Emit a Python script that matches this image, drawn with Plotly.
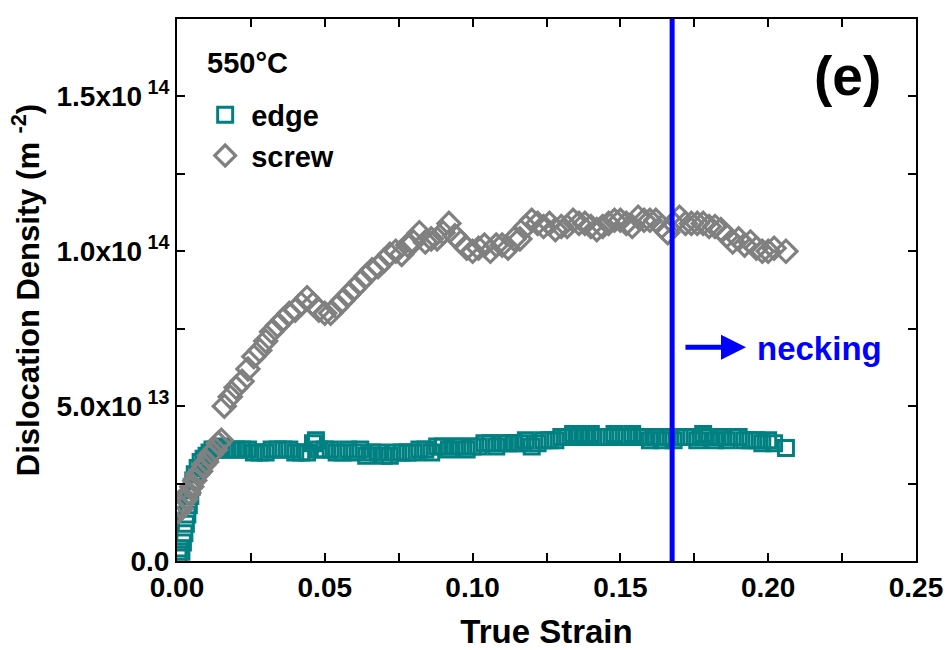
import plotly.graph_objects as go

# ---- data (strain, density in units of 1e13 m^-2) ----
screw_strain = [0.0005, 0.001, 0.0015, 0.002, 0.003, 0.004, 0.005, 0.006, 0.007, 0.008, 0.009, 0.010,
                0.011, 0.012, 0.013, 0.014, 0.015,
                0.016, 0.018, 0.020, 0.022, 0.024, 0.026, 0.028, 0.030, 0.032, 0.034, 0.036, 0.038,
                0.040, 0.042, 0.044, 0.046, 0.048, 0.050, 0.052, 0.054, 0.056, 0.058, 0.060, 0.062,
                0.064, 0.066, 0.068, 0.070, 0.072, 0.074, 0.076, 0.078, 0.080, 0.082, 0.084, 0.086,
                0.088, 0.090, 0.092, 0.094, 0.096, 0.098, 0.100, 0.102, 0.104, 0.106, 0.108, 0.110,
                0.112, 0.114, 0.116, 0.118, 0.120, 0.122, 0.124, 0.126, 0.128, 0.130, 0.132, 0.134,
                0.136, 0.138, 0.140, 0.142, 0.144, 0.146, 0.148, 0.150, 0.152, 0.154, 0.156, 0.158,
                0.160, 0.162, 0.164, 0.166, 0.168, 0.170, 0.172, 0.174, 0.176, 0.178, 0.180, 0.182,
                0.184, 0.186, 0.188, 0.190, 0.192, 0.194, 0.196, 0.198, 0.200, 0.202, 0.206]
screw_density = [1.6, 1.8, 1.7, 1.9, 2.0, 2.2, 2.4, 2.6, 2.8, 2.9, 3.1, 3.2,
                 3.4, 3.5, 3.6, 3.8, 3.9,
                 5.0, 5.3, 5.6, 5.8, 6.2, 6.6, 6.8, 7.1, 7.4, 7.6, 7.8, 8.0,
                 8.1, 8.3, 8.5, 8.3, 8.1, 8.0, 8.0, 8.2, 8.4, 8.6, 8.8, 9.0,
                 9.2, 9.4, 9.5, 9.7, 9.9, 10.0, 9.9, 10.2, 10.3, 10.6, 10.3, 10.4,
                 10.4, 10.6, 10.9, 10.5, 10.3, 10.1, 10.0, 10.1, 10.2, 10.0, 10.2, 10.2,
                 10.1, 10.4, 10.4, 10.8, 11.0, 10.9, 10.8, 10.9, 10.7, 10.8, 10.8, 11.0,
                 10.9, 10.9, 10.8, 10.7, 10.8, 10.9, 11.0, 11.0, 10.9, 10.8, 11.1, 11.0,
                 11.0, 11.0, 10.8, 10.6, 10.9, 11.1, 10.9, 10.9, 10.9, 10.9, 10.8, 10.8,
                 10.7, 10.5, 10.3, 10.4, 10.2, 10.3, 10.1, 10.0, 10.0, 10.1, 10.0]

edge_strain = [0.0005, 0.001, 0.0015, 0.002, 0.0025, 0.003, 0.0035, 0.004, 0.0045, 0.005, 0.0055,
               0.006, 0.007, 0.008, 0.009, 0.010, 0.011, 0.012, 0.013, 0.014, 0.015,
               0.016, 0.018, 0.020, 0.022, 0.024, 0.026, 0.028, 0.030, 0.032, 0.034, 0.036, 0.038,
               0.040, 0.042, 0.044, 0.046, 0.047, 0.048, 0.050, 0.052, 0.054, 0.056, 0.058, 0.060,
               0.062, 0.064, 0.066, 0.068, 0.070, 0.072, 0.074, 0.076, 0.078, 0.080, 0.082, 0.084,
               0.086, 0.088, 0.090, 0.092, 0.094, 0.096, 0.098, 0.100, 0.102, 0.104, 0.106, 0.108,
               0.110, 0.112, 0.114, 0.116, 0.118, 0.120, 0.122, 0.124, 0.126, 0.128, 0.130, 0.132,
               0.134, 0.136, 0.138, 0.140, 0.142, 0.144, 0.146, 0.148, 0.150, 0.152, 0.154, 0.156,
               0.158, 0.160, 0.162, 0.164, 0.166, 0.168, 0.170, 0.172, 0.174, 0.176, 0.178, 0.180,
               0.182, 0.184, 0.186, 0.188, 0.190, 0.192, 0.194, 0.196, 0.198, 0.200, 0.202, 0.206]
edge_density = [0.2, 0.4, 0.3, 0.6, 0.9, 1.2, 1.5, 1.8, 2.1, 2.4, 2.6,
                2.8, 3.0, 3.2, 3.3, 3.4, 3.5, 3.6, 3.6, 3.6, 3.7,
                3.6, 3.6, 3.6, 3.6, 3.6, 3.5, 3.5, 3.5, 3.6, 3.6, 3.6, 3.6,
                3.5, 3.5, 3.5, 3.8, 3.9, 3.6, 3.6, 3.6, 3.5, 3.5, 3.6, 3.5,
                3.6, 3.4, 3.5, 3.5, 3.4, 3.4, 3.5, 3.5, 3.5, 3.5, 3.6, 3.6,
                3.5, 3.7, 3.7, 3.6, 3.7, 3.7, 3.6, 3.7, 3.7, 3.8, 3.8, 3.7,
                3.8, 3.8, 3.8, 3.8, 3.9, 3.7, 3.8, 3.9, 3.9, 3.9, 4.0, 4.0,
                4.1, 4.0, 4.1, 4.1, 4.0, 4.0, 4.0, 4.1, 4.0, 4.0, 4.1, 4.0,
                4.0, 3.9, 4.0, 3.9, 4.0, 3.9, 4.0, 4.0, 4.0, 3.9, 4.1, 4.0,
                3.9, 4.0, 3.9, 4.0, 4.0, 3.9, 3.9, 3.9, 3.8, 3.9, 3.8, 3.65]

necking_strain = 0.1675
x_tickvals = [0.00, 0.05, 0.10, 0.15, 0.20, 0.25]
x_ticktext = ["0.00", "0.05", "0.10", "0.15", "0.20", "0.25"]
y_tickvals = [0, 5e13, 1e14, 1.5e14]
y_ticktext = ["0.0", "5.0x10<sup> 13</sup>", "1.0x10<sup> 14</sup>", "1.5x10<sup> 14</sup>"]

FONT = "Liberation Sans, Arial, sans-serif"
TEAL = "#008080"
GRAY = "#808080"
BLUE = "#0000ff"

fig = go.Figure()
fig.add_trace(go.Scatter(
    x=edge_strain, y=[v * 1e13 for v in edge_density], mode="markers", name="edge",
    marker=dict(symbol="square-open", size=15, color=TEAL, line=dict(width=3, color=TEAL)),
))
fig.add_trace(go.Scatter(
    x=screw_strain, y=[v * 1e13 for v in screw_density], mode="markers", name="screw",
    marker=dict(symbol="diamond-open", size=17, color=GRAY, line=dict(width=3.2, color=GRAY)),
))
fig.add_trace(go.Scatter(
    x=[necking_strain, necking_strain], y=[0, 1.75e14], mode="lines",
    line=dict(color=BLUE, width=5), showlegend=False, hoverinfo="skip",
))

axis_common = dict(
    showline=True, linecolor="black", linewidth=2, mirror="ticks",
    ticks="inside", ticklen=8, tickwidth=2, tickcolor="black",
    showgrid=False, zeroline=False, automargin=False,
    tickfont=dict(family=FONT, size=28, color="black", weight="bold"),
)
fig.update_xaxes(
    range=[0, 0.25], tickvals=x_tickvals, ticktext=x_ticktext,
    minor=dict(ticks="inside", ticklen=8, tickwidth=2, tickcolor="black", dtick=0.025, tick0=0),
    title=dict(text="True Strain", font=dict(family=FONT, size=33, color="black", weight="bold"), standoff=18),
    **axis_common,
)
fig.update_yaxes(
    range=[0, 1.75e14], tickvals=y_tickvals, ticktext=y_ticktext,
    minor=dict(ticks="inside", ticklen=8, tickwidth=2, tickcolor="black", dtick=2.5e13, tick0=0),
    title=dict(text="Dislocation Density (m <sup>-2</sup>)", font=dict(family=FONT, size=31, color="black", weight="bold"), standoff=8),
    **axis_common,
)

fig.add_annotation(x=0.038, y=0.918, xref="paper", yref="paper", text="550°C", showarrow=False,
                   xanchor="left", yanchor="middle", font=dict(family=FONT, size=29, color="black", weight="bold"))
fig.add_annotation(x=0.956, y=0.895, xref="paper", yref="paper", text="(e)", showarrow=False,
                   xanchor="right", yanchor="middle", font=dict(family=FONT, size=55, color="black", weight="bold"))
fig.add_annotation(x=0.1925, y=6.9e13, ax=0.1715, ay=6.9e13, xref="x", yref="y", axref="x", ayref="y",
                   text="", showarrow=True, arrowhead=2, arrowsize=1.0, arrowwidth=5, arrowcolor=BLUE)
fig.add_annotation(x=0.1955, y=6.85e13, xref="x", yref="y", text="necking", showarrow=False,
                   xanchor="left", yanchor="middle", font=dict(family=FONT, size=33, color=BLUE, weight="bold"))

fig.update_layout(
    width=951, height=650, paper_bgcolor="white", plot_bgcolor="white",
    margin=dict(l=177, r=35, t=19, b=89),
    showlegend=True,
    legend=dict(x=0.03, y=0.87, xanchor="left", yanchor="top", bgcolor="rgba(0,0,0,0)",
                font=dict(family=FONT, size=29, color="black", weight="bold"),
                itemsizing="trace", tracegroupgap=0, itemwidth=42),
)

fig.write_html("out.html")
